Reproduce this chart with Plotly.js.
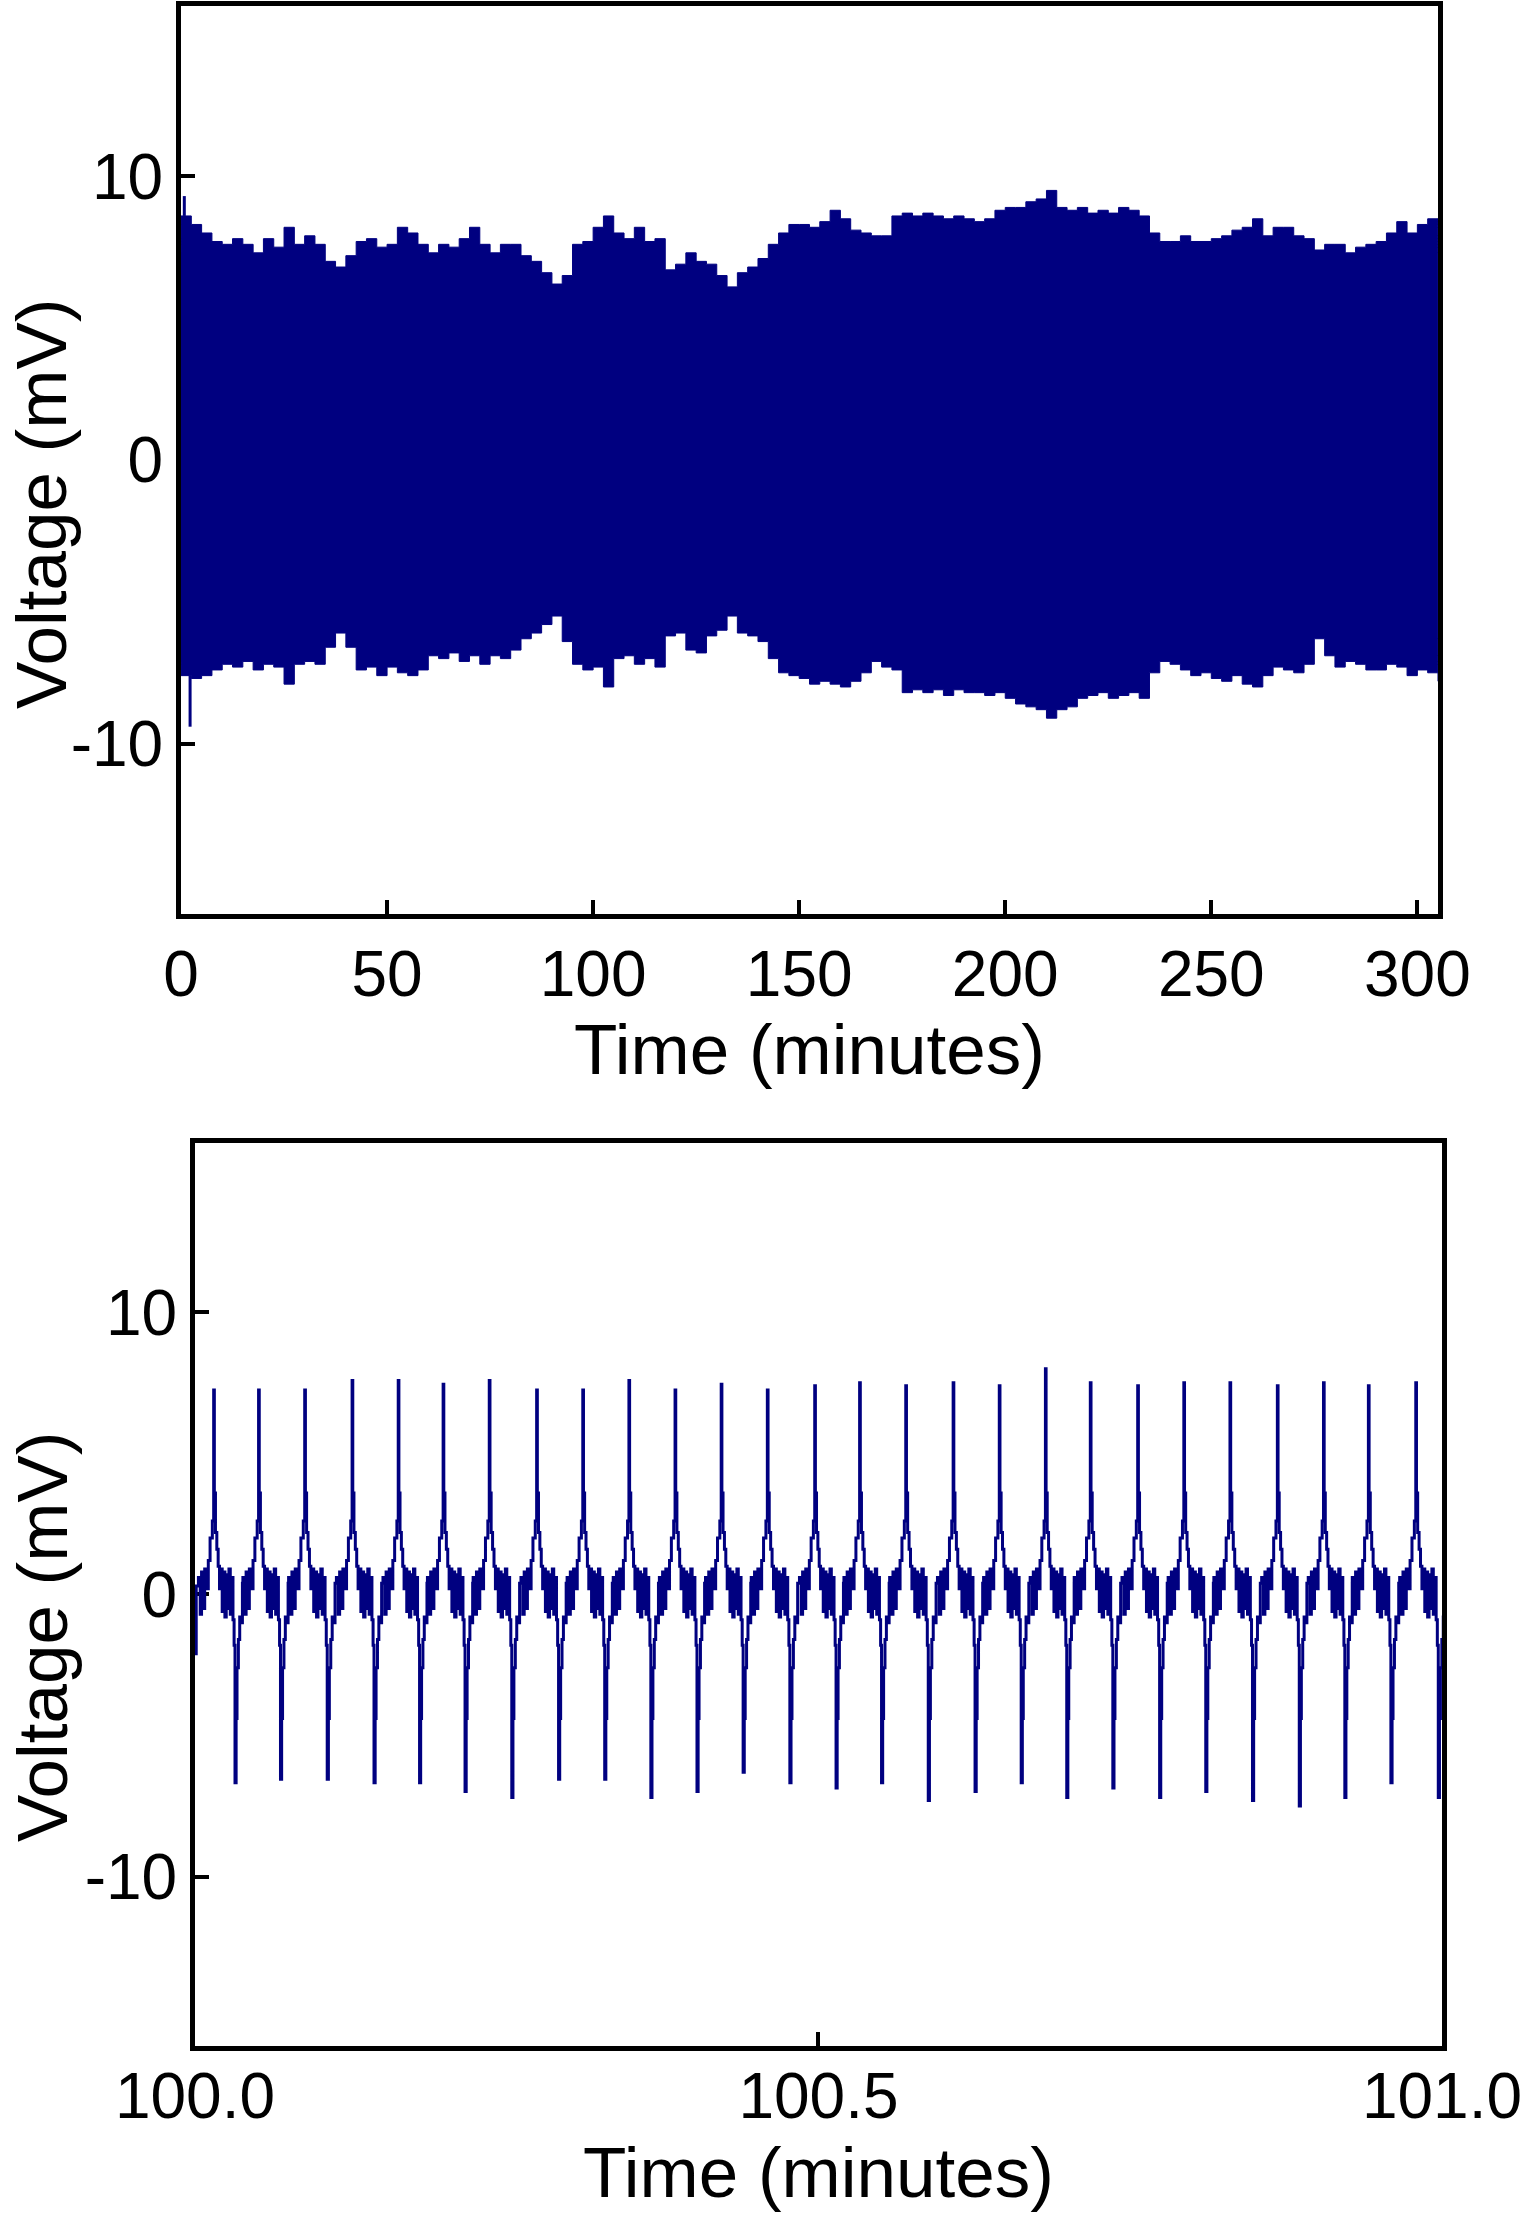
<!DOCTYPE html>
<html>
<head>
<meta charset="utf-8">
<script src="https://cdn.plot.ly/plotly-3.0.1.min.js"></script>
<style>
  html, body { margin: 0; padding: 0; background: #fff; }
  #chart { width: 1534px; height: 2213px; }
</style>
</head>
<body>
<div id="chart"></div>
<script>
// ---- top panel: 5 h recording, drawn as its envelope (read every 2.5 min) ----
const envStep = 2.5;
const envUpper = [
  8.6, 8.3, 8.0, 7.7, 7.6, 7.8, 7.6, 7.3, 7.8, 7.5, 8.2, 7.6, 7.9, 7.6, 7.0, 6.8,
  7.2, 7.7, 7.8, 7.5, 7.6, 8.2, 8.0, 7.6, 7.3, 7.6, 7.5, 7.8, 8.2, 7.6, 7.3, 7.6,
  7.6, 7.2, 7.0, 6.6, 6.2, 6.5, 7.6, 7.7, 8.2, 8.6, 8.0, 7.8, 8.2, 7.7, 7.8, 6.7,
  6.9, 7.3, 7.0, 6.9, 6.5, 6.1, 6.6, 6.8, 7.1, 7.6, 8.0, 8.3, 8.3, 8.2, 8.4, 8.8,
  8.5, 8.1, 8.0, 7.9, 7.9, 8.6, 8.7, 8.6, 8.7, 8.6, 8.5, 8.6, 8.5, 8.4, 8.5, 8.8,
  8.9, 8.9, 9.1, 9.2, 9.5, 8.9, 8.8, 8.9, 8.7, 8.8, 8.7, 8.9, 8.8, 8.6, 8.0, 7.7,
  7.7, 7.9, 7.7, 7.7, 7.8, 7.9, 8.1, 8.2, 8.5, 7.9, 8.2, 8.2, 7.9, 7.8, 7.4, 7.6,
  7.6, 7.3, 7.5, 7.6, 7.7, 8.0, 8.4, 8.0, 8.3, 8.5, 8.3
];
const envLower = [
  -7.6, -7.7, -7.6, -7.4, -7.2, -7.3, -7.1, -7.4, -7.2, -7.3, -7.9, -7.2, -7.1, -7.2, -6.6, -6.1,
  -6.6, -7.4, -7.3, -7.6, -7.3, -7.5, -7.6, -7.4, -6.9, -7.0, -6.8, -7.1, -6.9, -7.2, -6.9, -7.0,
  -6.7, -6.3, -6.1, -5.8, -5.5, -6.4, -7.2, -7.4, -7.3, -8.0, -7.0, -6.9, -7.2, -7.0, -7.3, -6.2,
  -6.1, -6.7, -6.8, -6.2, -6.0, -5.5, -6.1, -6.2, -6.4, -7.0, -7.5, -7.6, -7.7, -7.9, -7.8, -7.9,
  -8.0, -7.8, -7.5, -7.1, -7.3, -7.4, -8.2, -8.1, -8.2, -8.1, -8.3, -8.1, -8.2, -8.2, -8.3, -8.2,
  -8.4, -8.6, -8.7, -8.8, -9.1, -8.8, -8.7, -8.4, -8.3, -8.2, -8.4, -8.3, -8.2, -8.4, -7.5, -7.1,
  -7.2, -7.4, -7.6, -7.5, -7.7, -7.8, -7.6, -7.9, -8.0, -7.6, -7.3, -7.4, -7.5, -7.2, -6.3, -6.9,
  -7.3, -7.1, -7.2, -7.4, -7.4, -7.2, -7.3, -7.6, -7.4, -7.5, -7.8
];
const envTimes = envUpper.map((_, i) => i * envStep);
// short excursions at the start of the recording
const glitchTimes = [0.8, 2.2];
const glitchFrom = [8.6, -7.6];
const glitchTo = [9.3, -9.4];

// ---- bottom panel: one minute zoom, 27 beats ----
const beatPeakTimes = [
  100.015, 100.051, 100.088, 100.126, 100.163, 100.199, 100.236, 100.274, 100.311,
  100.348, 100.385, 100.422, 100.459, 100.497, 100.533, 100.570, 100.608, 100.645,
  100.682, 100.718, 100.756, 100.793, 100.830, 100.868, 100.905, 100.941, 100.979
];
const beatPeaks = [
  7.25, 7.25, 7.25, 7.58, 7.58, 7.45, 7.58, 7.25, 7.25, 7.58, 7.25, 7.45, 7.25, 7.4,
  7.5, 7.4, 7.5, 7.4, 8.0, 7.5, 7.4, 7.5, 7.5, 7.4, 7.5, 7.4, 7.5
];
const beatTroughs = [
  -6.67, -6.55, -6.55, -6.67, -6.67, -6.98, -7.2, -6.55, -6.55, -7.2, -6.98, -6.3, -6.67, -6.86,
  -6.67, -7.3, -6.98, -6.67, -7.2, -6.86, -7.2, -6.98, -7.3, -7.5, -7.2, -6.67, -7.2
];
// shape of one beat, as a fraction of the beat period from its peak
const beatShapeOffsets = [
  -0.34, -0.30, -0.27, -0.23, -0.20, -0.16, -0.12, -0.08, -0.03, 0, 0.015,
  0.04, 0.07, 0.10, 0.13, 0.16, 0.19, 0.22, 0.25, 0.28, 0.31, 0.34, 0.37, 0.40, 0.43,
  0.455, 0.475, 0.50, 0.52, 0.55, 0.58, 0.61, 0.64
];
const beatShapeLevels = [
  0.6, -0.7, 0.8, -0.5, 0.9, 0.2, 1.2, 2.0, 2.6, 'peak', 3.6,
  2.2, 1.6, 1.0, 0.2, 0.9, -0.6, 0.8, -0.8, 0.7, -0.5, 0.9, -0.7, 0.6, -0.9,
  -1.8, 'trough', -4.4, -2.6, -1.6, -0.8, -1.0, 0.4
];
const leadTimes = [100.0, 100.001];
const leadLevels = [-2.1, 0.3];

const navy = '#000080';
const font = 'Liberation Sans, Arial, sans-serif';

const zoomX = leadTimes.slice();
const zoomY = leadLevels.slice();
beatPeakTimes.forEach((tp, i) => {
  const period = i < beatPeakTimes.length - 1
    ? beatPeakTimes[i + 1] - tp
    : tp - beatPeakTimes[i - 1];
  beatShapeOffsets.forEach((off, j) => {
    const lvl = beatShapeLevels[j];
    zoomX.push(tp + off * period);
    zoomY.push(lvl === 'peak' ? beatPeaks[i] : lvl === 'trough' ? beatTroughs[i] : lvl);
  });
});

const data = [
  { x: envTimes, y: envLower, xaxis: 'x', yaxis: 'y', mode: 'lines',
    line: { color: navy, width: 1, shape: 'hv' }, hoverinfo: 'skip' },
  { x: envTimes, y: envUpper, xaxis: 'x', yaxis: 'y', mode: 'lines', fill: 'tonexty',
    fillcolor: navy, line: { color: navy, width: 1, shape: 'hv' }, hoverinfo: 'skip' }
];
glitchTimes.forEach((t, i) => {
  data.push({ x: [t, t], y: [glitchFrom[i], glitchTo[i]], xaxis: 'x', yaxis: 'y',
    mode: 'lines', line: { color: navy, width: 3 }, hoverinfo: 'skip' });
});
data.push({ x: zoomX, y: zoomY, xaxis: 'x2', yaxis: 'y2', mode: 'lines',
  line: { color: navy, width: 3, shape: 'hv' } });

const axisBase = {
  showline: true, linewidth: 5, linecolor: '#000', mirror: true,
  ticks: 'inside', ticklen: 14, tickwidth: 4, tickcolor: '#000',
  showgrid: false, zeroline: false, layer: 'below traces',
  tickfont: { family: font, size: 64, color: '#000' }
};
const titleFont = { family: font, size: 71, color: '#000' };

const layout = {
  width: 1534, height: 2213,
  margin: { l: 0, r: 0, t: 0, b: 0 },
  paper_bgcolor: '#fff', plot_bgcolor: '#fff',
  showlegend: false,
  xaxis: Object.assign({}, axisBase, {
    domain: [0.118, 0.9374], range: [0, 305], anchor: 'y',
    tickvals: [0, 50, 100, 150, 200, 250, 300],
    title: { text: 'Time (minutes)', font: titleFont, standoff: 4 }
  }),
  yaxis: Object.assign({}, axisBase, {
    domain: [0.587, 0.9973], range: [-16, 16], anchor: 'x',
    tickvals: [-10, 0, 10], ticktext: ['-10', '0', '10']
  }),
  xaxis2: Object.assign({}, axisBase, {
    domain: [0.1271, 0.940], range: [100, 101], anchor: 'y2',
    tickvals: [100, 100.5, 101], ticktext: ['100.0', '100.5', '101.0'],
    ticklabelstandoff: -10,
    title: { text: 'Time (minutes)', font: titleFont, standoff: 18 }
  }),
  yaxis2: Object.assign({}, axisBase, {
    domain: [0.0755, 0.4835], range: [-16, 16], anchor: 'x2',
    tickvals: [-10, 0, 10], ticktext: ['-10', '0', '10']
  }),
  annotations: [
    { text: 'Voltage (mV)', textangle: -90, xref: 'paper', yref: 'paper',
      x: 41 / 1534, y: 1 - 504 / 2213, xanchor: 'center', yanchor: 'middle',
      showarrow: false, font: titleFont },
    { text: 'Voltage (mV)', textangle: -90, xref: 'paper', yref: 'paper',
      x: 42 / 1534, y: 1 - 1637 / 2213, xanchor: 'center', yanchor: 'middle',
      showarrow: false, font: titleFont }
  ]
};

Plotly.newPlot('chart', data, layout, { staticPlot: true });
</script>
</body>
</html>
